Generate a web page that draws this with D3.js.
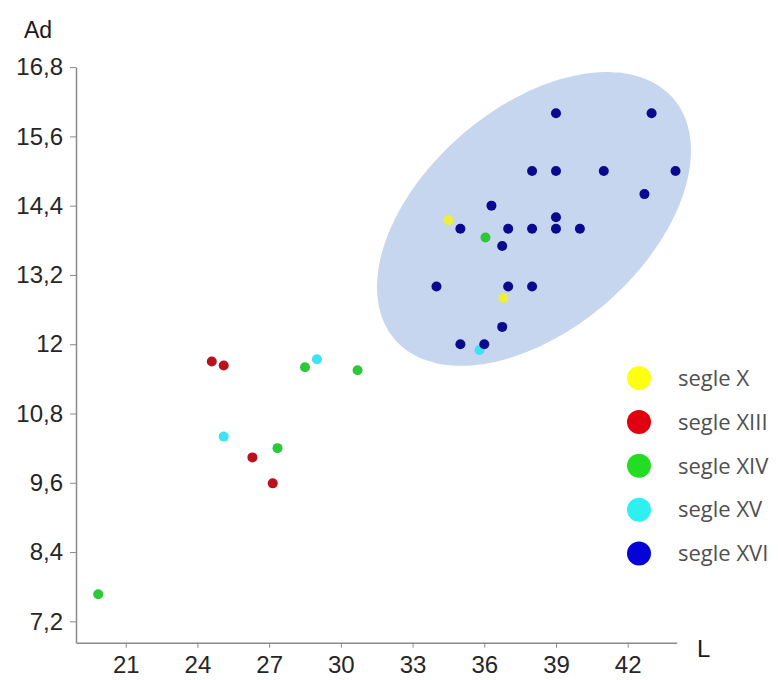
<!DOCTYPE html>
<html>
<head>
<meta charset="utf-8">
<script src="https://cdn.jsdelivr.net/npm/d3@7"></script>
<style>
  html, body { margin: 0; padding: 0; background: #fff; }
  svg { display: block; }
</style>
</head>
<body>
<svg id="chart" width="778" height="680"></svg>
<script>
// ---- data ----
const seriesNames = ["segle X", "segle XIII", "segle XIV", "segle XV", "segle XVI"];
const pointColors = ["#eeee3c", "#b8121c", "#2cc838", "#3ee2f0", "#0a0a8e"];
const legendColors = ["#ffff10", "#e00010", "#22dd22", "#2ef0f0", "#0404d8"];

const segleX = [[34.5, 14.15], [36.8, 12.8]];
const segleXIII = [[24.6, 11.7], [25.1, 11.63], [26.3, 10.04], [27.15, 9.59]];
const segleXIV = [[28.5, 11.6], [30.7, 11.55], [27.35, 10.2], [19.85, 7.67], [36.05, 13.85]];
const segleXV = [[29.0, 11.74], [25.1, 10.4], [35.8, 11.9]];
const segleXVI = [
  [39, 16], [43, 16],
  [38, 15], [39, 15], [41, 15], [44, 15],
  [42.7, 14.6], [36.3, 14.4], [39, 14.2],
  [35, 14], [37, 14], [38, 14], [39, 14], [40, 14],
  [36.75, 13.7],
  [34, 13], [37, 13], [38, 13],
  [36.75, 12.3],
  [35, 12], [36, 12]
];
const seriesData = [segleX, segleXIII, segleXIV, segleXV, segleXVI];

const xTicks = [21, 24, 27, 30, 33, 36, 39, 42];
const xTickLabels = ["21", "24", "27", "30", "33", "36", "39", "42"];
const yTicks = [7.2, 8.4, 9.6, 10.8, 12, 13.2, 14.4, 15.6, 16.8];
const yTickLabels = ["7,2", "8,4", "9,6", "10,8", "12", "13,2", "14,4", "15,6", "16,8"];

// ellipse (data units): centre and two conjugate semi-axis vectors
const ellipseCenter = [38.08, 14.17];
const ellipseAxisA = [5.82, 2.09];
const ellipseAxisB = [3.04, -1.45];

// ---- chart ----
const svg = d3.select("#chart");
const x = d3.scaleLinear().domain([18.92, 44.05]).range([76, 676.7]);
const y = d3.scaleLinear().domain([6.83, 16.8]).range([642.7, 67.1]);

// ellipse
const ellPts = d3.range(0, 361, 3).map(deg => {
  const t = deg * Math.PI / 180;
  return [
    ellipseCenter[0] + ellipseAxisA[0] * Math.cos(t) + ellipseAxisB[0] * Math.sin(t),
    ellipseCenter[1] + ellipseAxisA[1] * Math.cos(t) + ellipseAxisB[1] * Math.sin(t)
  ];
});
svg.append("path")
  .datum(ellPts)
  .attr("d", d3.line().x(d => x(d[0])).y(d => y(d[1])).curve(d3.curveCardinalClosed))
  .attr("fill", "#c6d6ee")
  .attr("stroke", "none");

// axes
const axisColor = "#8a8a8a";
const fontFam = "'Liberation Sans', Arial, sans-serif";

const xAxis = svg.append("g")
  .attr("transform", `translate(0,${y.range()[0]})`)
  .call(d3.axisBottom(x).tickValues(xTicks)
    .tickFormat((d, i) => xTickLabels[i]).tickSize(5).tickSizeOuter(0).tickPadding(8));

const yAxis = svg.append("g")
  .attr("transform", `translate(${x.range()[0]},0)`)
  .call(d3.axisLeft(y).tickValues(yTicks)
    .tickFormat((d, i) => yTickLabels[i]).tickSize(6).tickSizeOuter(0).tickPadding(7));

[xAxis, yAxis].forEach(g => {
  g.select(".domain").attr("stroke", axisColor).attr("stroke-width", 1.5);
  g.selectAll(".tick line").attr("stroke", axisColor).attr("stroke-width", 1);
  g.selectAll(".tick text")
    .attr("fill", "#262626")
    .style("font-family", fontFam)
    .style("font-size", "24px");
});

// axis titles
svg.append("text")
  .attr("x", 38).attr("y", 38)
  .attr("text-anchor", "middle")
  .attr("fill", "#1a1a1a")
  .style("font-family", fontFam)
  .style("font-size", "23px")
  .text("Ad");

svg.append("text")
  .attr("x", 697).attr("y", 657)
  .attr("fill", "#1a1a1a")
  .style("font-family", fontFam)
  .style("font-size", "24px")
  .text("L");

// points
seriesData.forEach((pts, si) => {
  svg.append("g")
    .selectAll("circle")
    .data(pts)
    .join("circle")
    .attr("cx", d => x(d[0]))
    .attr("cy", d => y(d[1]))
    .attr("r", 5)
    .attr("fill", pointColors[si]);
});

// legend
const legend = svg.append("g").attr("transform", "translate(639,378)");
const items = legend.selectAll("g")
  .data(seriesNames)
  .join("g")
  .attr("transform", (d, i) => `translate(0,${i * 43.9})`);
items.append("circle")
  .attr("r", 12)
  .attr("fill", (d, i) => legendColors[i]);
items.append("text")
  .attr("x", 39)
  .attr("dy", "0.35em")
  .attr("fill", "#505050")
  .style("font-family", "'Open Sans', sans-serif")
  .style("font-size", "22px")
  .text(d => d);
</script>
</body>
</html>
